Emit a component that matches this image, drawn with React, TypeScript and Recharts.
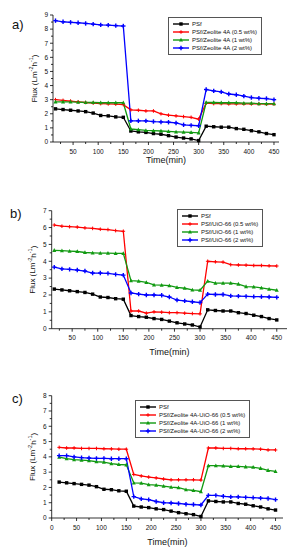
import React from "react";
import { Label, Legend, Line, LineChart, XAxis, YAxis } from "recharts";

const TIME = [
  15, 30, 45, 60, 75, 90, 105, 120, 135, 150,
  165, 180, 195, 210, 225, 240, 255, 270, 285, 300,
  315, 330, 345, 360, 375, 390, 405, 420, 435, 450,
];

// neat PSf membrane, same in all three panels
const PSF = [
  2.35, 2.3, 2.25, 2.2, 2.15, 2.05, 1.88, 1.85, 1.78, 1.75,
  0.78, 0.72, 0.68, 0.6, 0.55, 0.45, 0.35, 0.28, 0.22, 0.1,
  1.12, 1.08, 1.05, 1.05, 0.95, 0.9, 0.8, 0.72, 0.6, 0.52,
];

// a) Zeolite 4A
const ZEO_05 = [
  3.0, 2.95, 2.9, 2.85, 2.8, 2.75, 2.72, 2.7, 2.68, 2.65,
  2.28, 2.25, 2.2, 2.2, 2.0, 1.9, 1.85, 1.8, 1.75, 1.62,
  2.75, 2.72, 2.72, 2.7, 2.7, 2.7, 2.7, 2.7, 2.68, 2.68,
];
const ZEO_1 = [
  2.85, 2.85, 2.85, 2.82, 2.8, 2.8, 2.78, 2.78, 2.78, 2.78,
  0.92, 0.88, 0.82, 0.8, 0.78, 0.75, 0.72, 0.7, 0.68, 0.65,
  2.8, 2.8, 2.78, 2.78, 2.78, 2.75, 2.75, 2.72, 2.72, 2.72,
];
const ZEO_2 = [
  8.6, 8.52, 8.48, 8.45, 8.4, 8.35, 8.3, 8.28, 8.25, 8.22,
  1.5, 1.5, 1.5, 1.45, 1.42, 1.4, 1.35, 1.22, 1.18, 1.15,
  3.72, 3.62, 3.55, 3.4, 3.35, 3.25, 3.15, 3.1, 3.08, 3.0,
];

// b) UiO-66
const UIO_05 = [
  6.15, 6.08, 6.05, 6.03, 5.98, 5.95, 5.9, 5.88, 5.82, 5.78,
  1.05, 1.05, 0.92, 1.0, 0.98, 0.95, 0.95, 0.92, 0.9, 0.88,
  4.0, 3.97, 3.95, 3.8, 3.78, 3.77, 3.75, 3.75, 3.73, 3.72,
];
const UIO_1 = [
  4.65, 4.63, 4.6, 4.58, 4.52, 4.5, 4.48, 4.48, 4.47, 4.47,
  2.85, 2.82, 2.75, 2.6, 2.58, 2.55, 2.45, 2.4, 2.3, 2.28,
  2.82, 2.7, 2.7, 2.7, 2.65, 2.5, 2.48, 2.42, 2.35, 2.28,
];
const UIO_2 = [
  3.65, 3.55, 3.52, 3.48, 3.42, 3.3, 3.3, 3.28, 3.22, 3.18,
  2.12, 2.05, 2.0, 2.0, 1.98, 1.88, 1.7, 1.65, 1.6, 1.55,
  2.05, 2.03, 2.03, 1.95, 1.93, 1.92, 1.9, 1.9, 1.88, 1.86,
];

// c) Zeolite 4A-UiO-66
const MIX_05 = [
  4.62, 4.58, 4.58, 4.55, 4.55, 4.55, 4.53, 4.52, 4.5, 4.5,
  2.85, 2.75, 2.68, 2.62, 2.55, 2.5, 2.5, 2.5, 2.5, 2.48,
  4.58, 4.58, 4.55, 4.55, 4.53, 4.53, 4.52, 4.5, 4.45, 4.45,
];
const MIX_1 = [
  3.98, 3.88, 3.82, 3.78, 3.75, 3.68, 3.65, 3.55, 3.5, 3.48,
  2.3, 2.28, 2.18, 2.15, 2.08, 2.02, 1.98, 1.85, 1.8, 1.72,
  3.42, 3.42, 3.4, 3.38, 3.38, 3.35, 3.32, 3.25, 3.12, 3.05,
];
const MIX_2 = [
  4.08, 4.08, 4.0, 3.95, 3.92, 3.9, 3.9, 3.88, 3.88, 3.88,
  1.4, 1.25, 1.2, 1.08, 1.0, 0.98, 0.95, 0.9, 0.88, 0.85,
  1.48, 1.48, 1.42, 1.38, 1.38, 1.35, 1.33, 1.3, 1.28, 1.2,
];

const LEGEND_A = ["PSf", "PSf/Zeolite 4A (0.5 wt%)", "PSf/Zeolite 4A (1 wt%)", "PSf/Zeolite 4A (2 wt%)"];
const LEGEND_B = ["PSf", "PSf/UiO-66 (0.5 wt%)", "PSf/UiO-66 (1 wt%)", "PSf/UiO-66 (2 wt%)"];
const LEGEND_C = [
  "PSf",
  "PSf/Zeolite 4A-UiO-66 (0.5 wt%)",
  "PSf/Zeolite 4A-UiO-66 (1 wt%)",
  "PSf/Zeolite 4A-UiO-66 (2 wt%)",
];

const X_TICKS_A = [25, 50, 75, 100, 125, 150, 175, 200, 225, 250, 275, 300, 325, 350, 375, 400, 425, 450];
const X_TICKS_C = [0, ...X_TICKS_A];
const Y_TICKS_A = [0, 0.5, 1, 1.5, 2, 2.5, 3, 3.5, 4, 4.5, 5, 5.5, 6, 6.5, 7, 7.5, 8, 8.5, 9];
const Y_TICKS_B = Y_TICKS_A.slice(0, 15);
const Y_TICKS_C = Y_TICKS_A.slice(0, 17);

const FONT = "'Liberation Sans', Arial, sans-serif";
const KEYS = ["s0", "s1", "s2", "s3"];
const COLORS = ["#000000", "#ff0000", "#119a11", "#0000ff"];
const SHAPES = ["square", "plus", "triangle", "star"];

function Marker({ cx, cy, shape, color }: { cx: number; cy: number; shape: string; color: string }) {
  if (cx == null || cy == null) return null;
  if (shape === "square")
    return <rect x={cx - 1.7} y={cy - 1.7} width={3.4} height={3.4} fill={color} />;
  if (shape === "triangle")
    return <polygon points={`${cx},${cy - 2.2} ${cx - 2},${cy + 1.6} ${cx + 2},${cy + 1.6}`} fill={color} />;
  const s = shape === "star" ? 2.2 : 1.8;
  return (
    <g stroke={color} strokeWidth={shape === "star" ? 1.4 : 1}>
      <line x1={cx - s} y1={cy} x2={cx + s} y2={cy} />
      <line x1={cx} y1={cy - s} x2={cx} y2={cy + s} />
    </g>
  );
}

function XTick(props: any) {
  const { x, y, payload } = props;
  const major = payload.value % 50 === 0;
  return (
    <g>
      <line x1={x} y1={y} x2={x} y2={y + (major ? 3 : 2)} stroke="#000" strokeWidth={0.8} />
      {major && (
        <text x={x} y={y + 11.5} textAnchor="middle" fontSize={6.5} fontFamily={FONT} fill="#111">
          {payload.value}
        </text>
      )}
    </g>
  );
}

function YTick(props: any) {
  const { x, y, payload } = props;
  const major = Number.isInteger(payload.value);
  return (
    <g>
      <line x1={x - (major ? 3 : 2)} y1={y} x2={x} y2={y} stroke="#000" strokeWidth={0.8} />
      {major && (
        <text x={x - 5} y={y + 2.3} textAnchor="end" fontSize={6.5} fontFamily={FONT} fill="#111">
          {payload.value}
        </text>
      )}
    </g>
  );
}

function FluxLabel(props: any) {
  const vb = props.viewBox || {};
  const cx = vb.x + 11;
  const cy = vb.y + vb.height / 2;
  return (
    <text
      x={cx}
      y={cy}
      transform={`rotate(-90 ${cx} ${cy})`}
      textAnchor="middle"
      dominantBaseline="central"
      fontSize={8}
      fontFamily={FONT}
      fill="#111"
    >
      Flux (Lm
      <tspan fontSize={5.5} dy={-3}>-2</tspan>
      <tspan dy={3}>h</tspan>
      <tspan fontSize={5.5} dy={-3}>-1</tspan>
      <tspan dy={3}>)</tspan>
    </text>
  );
}

function LegendBox({ payload }: any) {
  return (
    <div
      style={{
        border: "1px solid #555",
        background: "#fff",
        padding: "2px 4px 2px 3px",
        fontFamily: FONT,
        fontSize: 6,
        lineHeight: "8px",
        color: "#111",
        whiteSpace: "nowrap",
      }}
    >
      {(payload || []).map((p: any, i: number) => (
        <div key={i} style={{ display: "flex", alignItems: "center", height: 8 }}>
          <svg width={18} height={8} style={{ marginRight: 2 }}>
            <line x1={1} y1={4} x2={17} y2={4} stroke={p.color} strokeWidth={1.4} />
            <Marker cx={9} cy={4} shape={SHAPES[KEYS.indexOf(p.dataKey)]} color={p.color} />
          </svg>
          <span>{p.value}</span>
        </div>
      ))}
    </div>
  );
}

type PanelProps = {
  tag: string;
  series: number[][];
  names: string[];
  top: number;
  height: number;
  margin: { top: number; right: number; left: number; bottom: number };
  xAxisHeight: number;
  xDomain: [number, number];
  xTicks: number[];
  yMax: number;
  yTicks: number[];
  legendPos: { left: number; top: number };
};

function Panel(p: PanelProps) {
  const data = TIME.map((t, i) => {
    const row: any = { t };
    p.series.forEach((s, k) => (row[KEYS[k]] = s[i]));
    return row;
  });
  return (
    <div style={{ position: "absolute", left: 0, top: p.top, width: 297, height: p.height }}>
      <div
        style={{
          position: "absolute",
          left: p.tag === "b)" ? 10 : 12,
          top: p.tag === "a)" ? 17 : 31,
          fontFamily: FONT,
          fontSize: 13,
          color: "#111",
        }}
      >
        {p.tag}
      </div>
      <LineChart width={297} height={p.height} data={data} margin={p.margin}>
        <XAxis
          dataKey="t"
          type="number"
          domain={p.xDomain}
          ticks={p.xTicks}
          allowDataOverflow
          height={p.xAxisHeight}
          stroke="#000"
          strokeWidth={0.8}
          tickLine={false}
          tickSize={0}
          tickMargin={0}
          tick={<XTick />}
          interval={0}
        >
          <Label
            value="Time(min)"
            position="insideBottom"
            offset={4}
            fontSize={9}
            fontFamily={FONT}
            fill="#111"
          />
        </XAxis>
        <YAxis
          type="number"
          domain={[0, p.yMax]}
          ticks={p.yTicks}
          width={30}
          stroke="#000"
          strokeWidth={0.8}
          tickLine={false}
          tickSize={0}
          tickMargin={0}
          tick={<YTick />}
          interval={0}
        >
          <Label content={<FluxLabel />} />
        </YAxis>
        <Legend
          layout="vertical"
          align="center"
          verticalAlign="middle"
          wrapperStyle={{ position: "absolute", left: p.legendPos.left, top: p.legendPos.top, width: "auto" }}
          content={<LegendBox />}
        />
        {p.series.map((_, k) => (
          <Line
            key={KEYS[k]}
            dataKey={KEYS[k]}
            name={p.names[k]}
            stroke={COLORS[k]}
            strokeWidth={1.3}
            type="linear"
            isAnimationActive={false}
            dot={(d: any) => (
              <Marker key={`${KEYS[k]}-${d.index}`} cx={d.cx} cy={d.cy} shape={SHAPES[k]} color={COLORS[k]} />
            )}
            activeDot={false}
          />
        ))}
      </LineChart>
    </div>
  );
}

export default function App() {
  return (
    <div style={{ position: "absolute", left: 0, top: 0, width: 297, height: 550, background: "#fff" }}>
      <Panel
        tag="a)"
        series={[PSF, ZEO_05, ZEO_1, ZEO_2]}
        names={LEGEND_A}
        top={0}
        height={167}
        margin={{ top: 15, right: 18, left: 23, bottom: 0 }}
        xAxisHeight={25}
        xDomain={[10, 460]}
        xTicks={X_TICKS_A}
        yMax={9}
        yTicks={Y_TICKS_A}
        legendPos={{ left: 168, top: 17 }}
      />
      <Panel
        tag="b)"
        series={[PSF, UIO_05, UIO_1, UIO_2]}
        names={LEGEND_B}
        top={175}
        height={184}
        margin={{ top: 35.7, right: 10, left: 21.7, bottom: 0 }}
        xAxisHeight={30.3}
        xDomain={[10, 470]}
        xTicks={X_TICKS_A}
        yMax={7}
        yTicks={Y_TICKS_B}
        legendPos={{ left: 177, top: 34 }}
      />
      <Panel
        tag="c)"
        series={[PSF, MIX_05, MIX_1, MIX_2]}
        names={LEGEND_C}
        top={360}
        height={189}
        margin={{ top: 35.7, right: 14, left: 21.7, bottom: 0 }}
        xAxisHeight={31}
        xDomain={[0, 465]}
        xTicks={X_TICKS_C}
        yMax={8}
        yTicks={Y_TICKS_C}
        legendPos={{ left: 135, top: 40 }}
      />
    </div>
  );
}
